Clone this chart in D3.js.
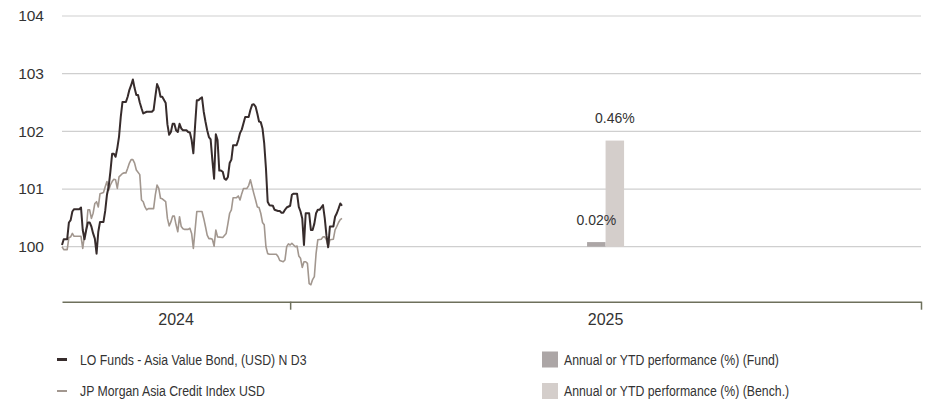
<!DOCTYPE html>
<html>
<head>
<meta charset="utf-8">
<script src="https://cdn.jsdelivr.net/npm/d3@7"></script>
<style>
  body { margin: 0; background: #fff; }
  svg { display: block; font-family: "Liberation Sans", Arial, sans-serif; }
  .legend text { font-family: "Liberation Sans", Arial, sans-serif; font-size: 15px; fill: #333; }
</style>
</head>
<body>
<div class="canvas"></div>
<script>
// chart size
const width = 928;
const height = 400;
const marginLeft = 62;
const marginRight = 7;
const marginTop = 16;
const gridBottom = 246.7;   // y of the 100 line
const axisY = 301.7;

// series start (day 0) - values are rebased to 100
const startDate = new Date(Date.UTC(2024, 7, 22));
const endDate = new Date(Date.UTC(2026, 0, 1));

// LO Funds - Asia Value Bond, (USD) N D3
const fundDays = [0, 1, 3, 4, 5, 6, 7, 10, 11, 12, 13, 14, 15, 16, 17, 18, 19, 20, 21, 22, 24,
  25, 26, 27, 28, 29, 30, 31, 32, 33, 34, 35, 37, 38, 39, 40, 41, 42, 43, 44, 45, 46, 47, 49,
  52, 53, 54, 55, 56, 57, 58, 60, 61, 62, 63, 64, 65, 66, 67, 68, 69, 70, 72, 73, 74, 75, 76,
  77, 78, 79, 80, 81, 82, 83, 84, 85, 86, 87, 88, 89, 90, 91, 92, 93, 94, 95, 96, 97, 98, 99,
  101, 102, 103, 104, 106, 108, 109, 110, 111, 112, 113, 114, 115, 116, 117, 118, 119, 120,
  122, 123, 125, 126, 127, 128, 129, 130, 132, 133, 134, 136, 137, 138, 139, 140, 141, 143,
  144, 145, 146, 147, 148, 149, 150, 151, 152, 153, 154, 155, 157, 158, 159, 160, 161, 162];
const fundValues = [100.03, 100.13, 100.13, 100.42, 100.46, 100.61, 100.65, 100.65, 100.68,
  100.29, 100.13, 100.29, 100.42, 100.42, 100.35, 100.23, 100.14, 99.88, 100.26, 100.43,
  100.43, 100.62, 100.90, 101.04, 101.30, 101.61, 101.61, 101.56, 101.71, 101.91, 102.25,
  102.51, 102.51, 102.60, 102.72, 102.80, 102.90, 102.75, 102.63, 102.63, 102.50, 102.40,
  102.31, 102.34, 102.34, 102.37, 102.60, 102.82, 102.75, 102.60, 102.60, 102.49, 102.12,
  101.94, 101.99, 102.13, 102.13, 102.02, 101.99, 102.13, 102.05, 102.02, 102.02, 101.99,
  101.98, 101.85, 101.62, 102.10, 102.54, 102.54, 102.57, 102.59, 102.34, 102.17, 102.02,
  101.90, 101.86, 101.50, 101.18, 101.95, 101.85, 101.32, 101.32, 101.30, 101.18, 101.16,
  101.21, 101.45, 101.51, 101.76, 101.76, 101.85, 101.97, 102.03, 102.25, 102.25, 102.37,
  102.46, 102.47, 102.43, 102.31, 102.17, 102.16, 102.05, 101.79, 101.36, 100.78, 100.72,
  100.71, 100.64, 100.62, 100.62, 100.59, 100.59, 100.64, 100.68, 100.71, 100.90, 100.92,
  100.92, 100.69, 100.61, 100.49, 100.03, 100.58, 100.58, 100.29, 100.29, 100.40, 100.58,
  100.64, 100.64, 100.68, 100.72, 100.50, 100.20, 99.99, 100.35, 100.35, 100.52, 100.58,
  100.66, 100.75, 100.71];

// JP Morgan Asia Credit Index USD
const benchDays = [0, 1, 3, 4, 5, 6, 7, 11, 12, 13, 14, 15, 16, 17, 18, 19, 20, 21, 22, 24,
  25, 26, 27, 28, 29, 30, 31, 32, 33, 35, 36, 37, 38, 39, 40, 41, 42, 43, 45, 46, 47, 48, 49,
  50, 53, 54, 55, 56, 57, 58, 60, 61, 62, 63, 64, 65, 66, 67, 68, 69, 70, 71, 73, 74, 75, 76,
  77, 78, 81, 82, 83, 84, 85, 86, 87, 88, 89, 90, 93, 95, 96, 97, 98, 99, 101, 102, 103, 104,
  105, 107, 108, 109, 110, 111, 112, 113, 114, 115, 116, 117, 118, 119, 120, 124, 125, 126,
  128, 129, 130, 131, 132, 133, 135, 136, 137, 138, 139, 140, 141, 142, 143, 144, 145, 146,
  147, 148, 150, 151, 152, 153, 154, 155, 157, 158, 159, 160, 161, 162];
const benchValues = [100.00, 99.95, 99.95, 100.16, 100.17, 100.23, 100.18, 100.18, 99.97,
  100.20, 100.29, 100.64, 100.64, 100.49, 100.58, 100.75, 100.78, 100.69, 100.92, 100.94,
  101.04, 101.13, 100.98, 101.07, 101.13, 101.17, 101.16, 101.01, 101.21, 101.27, 101.28,
  101.28, 101.36, 101.45, 101.51, 101.51, 101.45, 101.33, 101.25, 100.81, 100.78, 100.69,
  100.64, 100.66, 100.66, 100.90, 101.07, 101.01, 100.84, 100.83, 100.78, 100.49, 100.36,
  100.43, 100.53, 100.53, 100.38, 100.26, 100.52, 100.35, 100.31, 100.30, 100.30, 100.32,
  100.23, 99.97, 100.29, 100.61, 100.61, 100.49, 100.35, 100.20, 100.14, 100.14, 100.13,
  100.01, 100.29, 100.17, 100.16, 100.23, 100.40, 100.58, 100.64, 100.85, 100.85, 100.88,
  100.81, 100.92, 101.01, 101.01, 101.06, 101.16, 101.04, 100.92, 100.81, 100.69, 100.68,
  100.58, 100.42, 100.38, 100.00, 99.88, 99.87, 99.87, 99.83, 99.76, 99.74, 99.77, 100.00,
  100.05, 100.03, 100.06, 100.00, 100.01, 99.84, 99.80, 99.64, 99.74, 99.74, 99.71, 99.36,
  99.34, 99.43, 99.48, 99.88, 100.12, 100.13, 100.17, 100.17, 100.12, 100.00, 100.12, 100.13,
  100.29, 100.35, 100.42, 100.47, 100.49];

// annual / YTD performance (%)
const perfYears = [2025];
const perfFund = [0.02];
const perfBench = [0.46];

const yTicks = [100, 101, 102, 103, 104];
const yearLabels = [2024, 2025];

const fundColor = "#372c2c";
const benchColor = "#a2978f";
const fundBarColor = "#aca6a6";
const benchBarColor = "#d4cecb";

const fundData = fundDays.map((d, i) => ({ date: d3.utcDay.offset(startDate, d), value: fundValues[i] }));
const benchData = benchDays.map((d, i) => ({ date: d3.utcDay.offset(startDate, d), value: benchValues[i] }));

// scales
const x = d3.scaleUtc()
  .domain([startDate, endDate])
  .range([marginLeft, width - marginRight]);

const y = d3.scaleLinear()
  .domain([100, 104])
  .range([gridBottom, marginTop]);

// hidden secondary axis for the bars, 0..1 % on the same grid
const yPerf = d3.scaleLinear()
  .domain([0, 1])
  .range([gridBottom, marginTop]);

const svg = d3.select(".canvas").append("svg")
  .attr("width", width)
  .attr("height", height);

// grid lines + y labels
svg.append("g")
  .selectAll("line")
  .data(yTicks)
  .join("line")
    .attr("x1", marginLeft)
    .attr("x2", width - marginRight)
    .attr("y1", d => y(d))
    .attr("y2", d => y(d))
    .attr("stroke", "#cfcfcf")
    .attr("stroke-width", 1.2);

svg.append("g")
  .selectAll("text")
  .data(yTicks)
  .join("text")
    .attr("x", 44)
    .attr("y", d => y(d))
    .attr("dy", "0.35em")
    .attr("text-anchor", "end")
    .attr("font-size", 15.5)
    .attr("fill", "#333")
    .text(d => d);

// bars for YTD performance
const yearStart = yr => d3.max([startDate, new Date(Date.UTC(yr, 0, 1))]);
const yearMid = yr => (x(yearStart(yr)) + x(new Date(Date.UTC(yr + 1, 0, 1)))) / 2;
const barW = 18.5;

perfYears.forEach((yr, i) => {
  const cx = yearMid(yr);
  const xb = d3.scaleBand().domain(["fund", "bench"]).range([cx - barW, cx + barW]);
  const rows = [
    { key: "fund", value: perfFund[i], color: fundBarColor },
    { key: "bench", value: perfBench[i], color: benchBarColor }
  ];
  const g = svg.append("g");
  g.selectAll("rect")
    .data(rows)
    .join("rect")
      .attr("x", d => xb(d.key))
      .attr("width", xb.bandwidth())
      .attr("y", d => yPerf(d.value))
      .attr("height", d => yPerf(0) - yPerf(d.value))
      .attr("fill", d => d.color);
  g.selectAll("text")
    .data(rows)
    .join("text")
      .attr("x", d => xb(d.key) + xb.bandwidth() / 2)
      .attr("y", d => yPerf(d.value) - 17.5)
      .attr("text-anchor", "middle")
      .attr("font-size", 14)
      .attr("fill", "#333")
      .text(d => d.value.toFixed(2) + "%");
});

// lines
const line = d3.line()
  .x(d => x(d.date))
  .y(d => y(d.value));

svg.append("path")
  .datum(benchData)
  .attr("fill", "none")
  .attr("stroke", benchColor)
  .attr("stroke-width", 1.6)
  .attr("stroke-linejoin", "round")
  .attr("d", line);

svg.append("path")
  .datum(fundData)
  .attr("fill", "none")
  .attr("stroke", fundColor)
  .attr("stroke-width", 2)
  .attr("stroke-linejoin", "round")
  .attr("d", line);

// x axis: year boundaries
const gx = svg.append("g")
  .attr("transform", `translate(0, ${axisY})`)
  .call(d3.axisBottom(x)
    .tickValues([new Date(Date.UTC(2025, 0, 1)), endDate])
    .tickSize(8)
    .tickSizeOuter(0)
    .tickFormat(""));
gx.selectAll("path, line").attr("stroke", "#6e705c").attr("stroke-width", 1.5);

gx.selectAll(".year")
  .data(yearLabels)
  .join("text")
    .attr("class", "year")
    .attr("x", d => yearMid(d))
    .attr("y", 23.5)
    .attr("text-anchor", "middle")
    .attr("font-size", 16)
    .attr("fill", "#333")
    .text(d => d);

// legend (narrow type: squeeze the text horizontally)
const legend = svg.append("g").attr("class", "legend");
const legendLines = [
  { label: "LO Funds - Asia Value Bond, (USD) N D3", color: fundColor, w: 3 },
  { label: "JP Morgan Asia Credit Index USD", color: benchColor, w: 2 }
];
const legendBars = [
  { label: "Annual or YTD performance (%) (Fund)", color: fundBarColor },
  { label: "Annual or YTD performance (%) (Bench.)", color: benchBarColor }
];
const rowY = [359.5, 391];
const narrow = 0.82;

legendLines.forEach((d, i) => {
  legend.append("line")
    .attr("x1", 57).attr("x2", 67)
    .attr("y1", rowY[i]).attr("y2", rowY[i])
    .attr("stroke", d.color)
    .attr("stroke-width", d.w);
  legend.append("text")
    .attr("transform", `translate(80, ${rowY[i]}) scale(${narrow}, 1)`)
    .attr("dy", "0.35em")
    .text(d.label);
});

legendBars.forEach((d, i) => {
  legend.append("rect")
    .attr("x", 542).attr("y", rowY[i] - 8)
    .attr("width", 16).attr("height", 16)
    .attr("fill", d.color);
  legend.append("text")
    .attr("transform", `translate(564, ${rowY[i]}) scale(${narrow}, 1)`)
    .attr("dy", "0.35em")
    .text(d.label);
});
</script>
</body>
</html>
